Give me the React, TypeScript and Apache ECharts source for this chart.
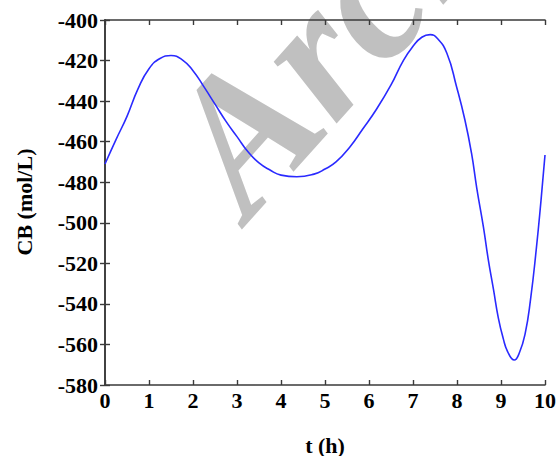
import React, { useEffect, useRef } from "react";
import * as echarts from "echarts";

// time (h)
const tHours = [
  0, 0.25, 0.5, 0.75, 1, 1.25, 1.5, 1.75, 2, 2.25, 2.5, 2.75, 3, 3.25, 3.5, 3.75, 4, 4.36, 4.75, 5, 5.25,
  5.57, 5.85, 6.17, 6.5, 6.78, 7, 7.2, 7.39, 7.55, 7.77, 7.99, 8.18, 8.33, 8.45, 8.6, 8.71, 8.83, 8.94,
  9.05, 9.15, 9.3, 9.42, 9.55, 9.67, 9.8, 9.91, 10,
];
// CB (mol/L)
const cbValues = [
  -471, -459, -447.5, -434, -424, -419, -417.5, -419.5, -425, -433, -441.5, -450, -457.5, -465, -470.5,
  -474, -476.5, -477.3, -476, -473.5, -470, -462.5, -454, -444, -432, -420, -413, -408.5, -407.2, -409,
  -416.4, -432.9, -449.3, -465.7, -483, -502, -518, -533, -547, -557, -563.5, -567.7, -564, -554.5,
  -538, -513.4, -488.8, -466.6,
];

const yTitle = "CB (mol/L)";
const xTitle = "t (h)";
const watermark = "Archive";

const FONT = "Liberation Serif";

export default function App() {
  const ref = useRef<HTMLDivElement>(null);
  useEffect(() => {
    document.body.style.margin = "0";
    const chart = echarts.init(ref.current!, null, { renderer: "svg" });
    const axisLine = { show: true, lineStyle: { color: "#3a3a3a", width: 1.6 } };
    const tick = { show: true, inside: true, length: 5, lineStyle: { color: "#3a3a3a", width: 1.4 } };
    const label = { fontFamily: FONT, fontWeight: "bold" as const, fontSize: 22, color: "#000" };
    chart.setOption({
      animation: false,
      backgroundColor: "#fff",
      grid: { left: 105, right: 14, top: 20, bottom: 71, containLabel: false },
      xAxis: [
        {
          type: "value",
          min: 0,
          max: 10,
          interval: 1,
          position: "bottom",
          axisLine,
          axisTick: tick,
          axisLabel: { ...label, margin: 4 },
          splitLine: { show: false },
        },
        {
          type: "value",
          min: 0,
          max: 10,
          interval: 1,
          position: "top",
          axisLine,
          axisTick: tick,
          axisLabel: { show: false },
          splitLine: { show: false },
        },
      ],
      yAxis: [
        {
          type: "value",
          min: -580,
          max: -400,
          interval: 20,
          position: "left",
          axisLine,
          axisTick: tick,
          axisLabel: { ...label, margin: 7 },
          splitLine: { show: false },
        },
        {
          type: "value",
          min: -580,
          max: -400,
          interval: 20,
          position: "right",
          axisLine,
          axisTick: tick,
          axisLabel: { show: false },
          splitLine: { show: false },
        },
      ],
      graphic: [
        {
          type: "text",
          z: -10,
          x: 272,
          y: 243,
          rotation: 0.84,
          style: {
            text: watermark,
            fill: "#c0c0c0",
            fontFamily: FONT,
            fontStyle: "italic",
            fontWeight: "bold",
            fontSize: 192,
            textAlign: "left",
            textVerticalAlign: "bottom",
          },
        },
        {
          type: "text",
          x: 24,
          y: 202,
          rotation: Math.PI / 2,
          style: {
            text: yTitle,
            fill: "#000",
            fontFamily: FONT,
            fontWeight: "bold",
            fontSize: 22,
            textAlign: "center",
            textVerticalAlign: "middle",
          },
        },
        {
          type: "text",
          x: 325,
          y: 445,
          style: {
            text: xTitle,
            fill: "#000",
            fontFamily: FONT,
            fontWeight: "bold",
            fontSize: 22,
            textAlign: "center",
            textVerticalAlign: "middle",
          },
        },
      ],
      series: [
        {
          type: "line",
          data: tHours.map((t, i) => [t, cbValues[i]]),
          smooth: true,
          showSymbol: false,
          lineStyle: { color: "#2a2aff", width: 1.6 },
          z: 5,
        },
      ],
    });
    return () => chart.dispose();
  }, []);
  return <div ref={ref} style={{ width: 559, height: 456 }} />;
}
